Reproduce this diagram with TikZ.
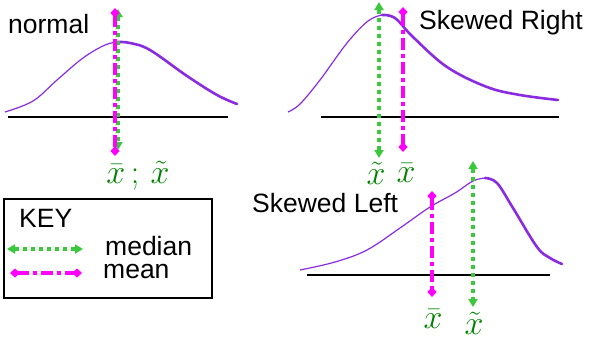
\RequirePackage{fix-cm}
\documentclass[tikz,border=0pt]{standalone}
\usepackage{amsmath}
\usepackage{fontspec}
\setmainfont{Liberation Sans}
\usetikzlibrary{arrows.meta}
\definecolor{curvepurple}{RGB}{138,43,226}
\definecolor{medgreen}{RGB}{60,200,60}
\definecolor{meanpink}{RGB}{255,0,255}
\definecolor{labgreen}{RGB}{0,130,0}

\begin{document}
\begin{tikzpicture}[x=1pt, y=-1pt,
  title/.style={anchor=base west, inner sep=0pt, font=\fontsize{26.5}{30}\selectfont},
  median/.style={{Triangle[length=8pt,width=9pt]}-{Triangle[length=8pt,width=9pt]}, draw=medgreen, fill=medgreen, line width=4pt, dash pattern=on 4pt off 4pt},
  mean/.style={{Diamond[length=10pt,width=9pt]}-{Diamond[length=10pt,width=9pt]}, draw=meanpink, fill=meanpink, line width=4pt, dash pattern=on 12pt off 4pt on 4pt off 4pt},
  dist/.style={draw=curvepurple, line width=1.2pt},
  distthick/.style={draw=curvepurple, line width=2.6pt, line cap=round},
  axis/.style={draw=black, line width=2.5pt},
  sym/.style={text=labgreen, inner sep=0pt, font=\fontsize{34}{38}\selectfont}
]
\useasboundingbox (0,0) rectangle (592,343);

% normal
\node[title] (normal) at (8,33) {normal};
\draw[dist] plot[smooth, tension=0.6] coordinates {(5,112) (33,101) (57,80) (83,58) (105,45) (118,42)};
\draw[distthick] plot[smooth, tension=0.6] coordinates {(118,42) (130,43) (150,50) (187,76) (217,95) (237,104)};
\draw[axis] (8,117) -- (228,117);
\coordinate (nmedtop) at (118,9);
\coordinate (nmedbot) at (118,150);
\coordinate (nmeantop) at (115,8);
\coordinate (nmeanbot) at (115,156);
\draw[median] (nmedtop) -- (nmedbot);
\draw[mean] (nmeantop) -- (nmeanbot);
\node[sym] (nsym) at (138,176) {$\bar{x}\,;\,\tilde{x}$};

% skewed right
\node[title] (right) at (419,29) {Skewed Right};
\draw[dist] plot[smooth, tension=0.6] coordinates {(288,112) (300,104) (320,80) (347,43) (368,21) (382,15)};
\draw[distthick] plot[smooth, tension=0.6] coordinates {(382,15) (395,18) (413,37) (447,67) (487,87) (520,95) (558,100)};
\draw[axis] (321,117) -- (559,117);
\coordinate (rmedtop) at (379,2);
\coordinate (rmedbot) at (379,158);
\coordinate (rmeantop) at (403,7);
\coordinate (rmeanbot) at (403,152);
\draw[median] (rmedtop) -- (rmedbot);
\draw[mean] (rmeantop) -- (rmeanbot);
\node[sym] (rmed) at (376,173) {$\tilde{x}$};
\node[sym] (rmean) at (406,173) {$\bar{x}$};

% skewed left
\node[title] (left) at (252,212) {Skewed Left};
\draw[dist] plot[smooth, tension=0.6] coordinates {(300,270) (335,262) (367,250) (400,228) (430,207) (455,193) (473,181) (485,178)};
\draw[distthick] plot[smooth, tension=0.6] coordinates {(485,178) (497,183) (513,208) (537,247) (550,258) (562,264)};
\draw[axis] (307,275) -- (550,275);
\coordinate (lmeantop) at (432,191);
\coordinate (lmeanbot) at (432,297);
\coordinate (lmedtop) at (473,161);
\coordinate (lmedbot) at (473,307);
\draw[mean] (lmeantop) -- (lmeanbot);
\draw[median] (lmedtop) -- (lmedbot);
\node[sym] (lmean) at (433,319) {$\bar{x}$};
\node[sym] (lmed) at (474,323) {$\tilde{x}$};

% key
\node[draw, line width=2pt, minimum width=208pt, minimum height=99pt, anchor=north west, inner sep=0pt] (keybox) at (3,198) {};
\node[title] (key) at (19,227) {KEY};
\coordinate (kmedl) at (7,249);
\coordinate (kmedr) at (83,249);
\coordinate (kmeanl) at (10,273);
\coordinate (kmeanr) at (82,273);
\draw[median] (kmedl) -- (kmedr);
\draw[mean] (kmeanl) -- (kmeanr);
\node[title] (medtxt) at (105,255) {median};
\node[title] (meantxt) at (103,278) {mean};
\end{tikzpicture}
\end{document}
